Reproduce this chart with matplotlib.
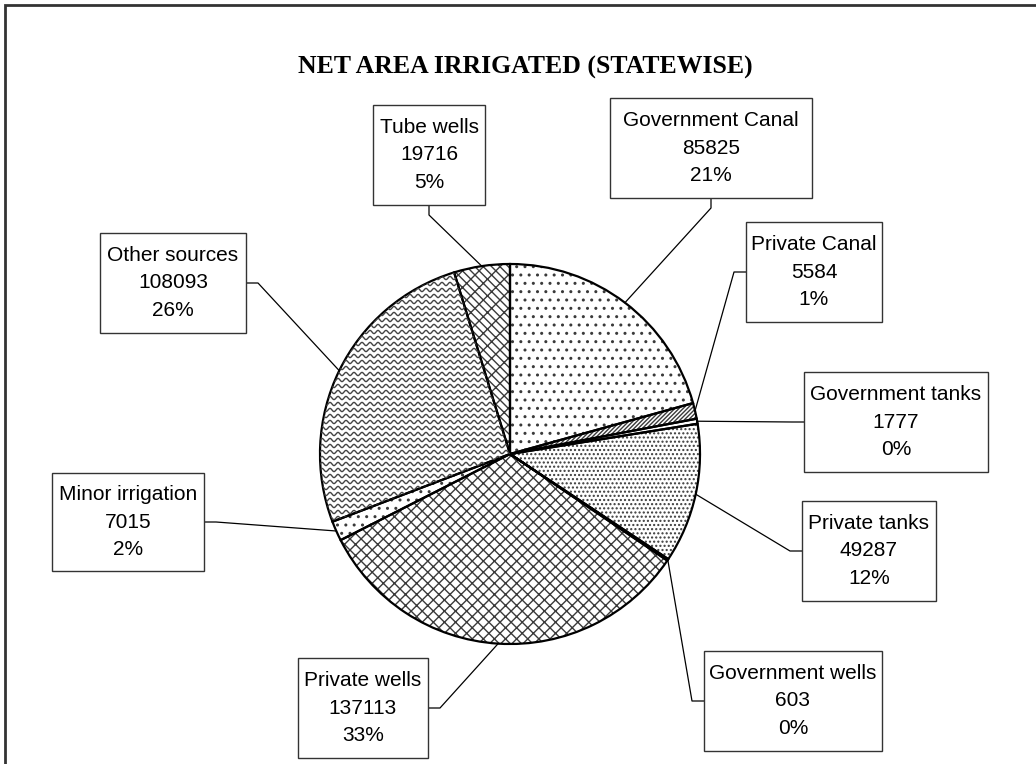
"""
Net area irrigated (statewise) - pie chart with boxed labels
"""
import numpy as np
import matplotlib
matplotlib.use("Agg")
import matplotlib.pyplot as plt
from matplotlib.patches import Rectangle

# data
sources = ["Government Canal", "Private Canal", "Government tanks", "Private tanks",
           "Government wells", "Private wells", "Minor irrigation", "Other sources",
           "Tube wells"]
areas = [85825, 5584, 1777, 49287, 603, 137113, 7015, 108093, 19716]
hatches = ["..", "////////", "", "....", "..", "xxx", "..", None, "xx\\\\"]

# layout (pixel positions, y measured from the top)
W, H = 1036, 764
pie_center = (510, 454)
pie_radius = 190
box_centers = [(711, 148), (814, 272), (896, 422), (869, 551), (793, 701),
               (363, 708), (128, 522), (173, 283), (429, 155)]
box_sides = ["bottom", "left", "left", "left", "left", "right", "right", "right", "bottom"]
box_half = [(101, 50), (68, 50), (92, 50), (67, 50), (89, 50),
            (65, 50), (76, 49), (73, 50), (56, 50)]


def fy(y):
    return H - y


plt.rcParams["hatch.linewidth"] = 1.0

fig = plt.figure(figsize=(W / 100, H / 100), dpi=100)
ax = fig.add_axes([0, 0, 1, 1])

# hatched fill
wedges, _ = ax.pie(areas, center=(pie_center[0], fy(pie_center[1])), radius=pie_radius,
                   startangle=90, counterclock=False, frame=True,
                   wedgeprops=dict(facecolor="white", edgecolor="#3a3a3a", linewidth=0))
for w, h in zip(wedges, hatches):
    if h:
        w.set_hatch(h)

# wavy pattern for "Other sources"
wave = wedges[7]
xs = np.linspace(pie_center[0] - pie_radius, pie_center[0] + pie_radius, 800)
for y0 in np.arange(fy(pie_center[1]) - pie_radius, fy(pie_center[1]) + pie_radius, 6):
    ln, = ax.plot(xs, y0 + 1.6 * np.sin(xs * 2 * np.pi / 8), color="#444444", lw=1.0)
    ln.set_clip_path(wave)

# outlines
outl, _ = ax.pie(areas, center=(pie_center[0], fy(pie_center[1])), radius=pie_radius,
                 startangle=90, counterclock=False, frame=True,
                 wedgeprops=dict(fill=False, edgecolor="black", linewidth=1.6))
ax.set_xlim(0, W)
ax.set_ylim(0, H)
ax.set_aspect("equal")
ax.axis("off")

total = sum(areas)
for i, w in enumerate(outl):
    name, val = sources[i], areas[i]
    pct = round(val / total * 100)
    cx, cy = box_centers[i]
    hw, hh = box_half[i]
    ax.add_patch(Rectangle((cx - hw, fy(cy + hh)), 2 * hw, 2 * hh, facecolor="white",
                           edgecolor="#333333", linewidth=1.0, zorder=4))
    ax.text(cx, fy(cy), f"{name}\n{val}\n{pct}%", ha="center", va="center",
            fontsize=15, family="Liberation Sans", linespacing=1.55, zorder=5)

    # leader line from slice middle to box
    mid = np.deg2rad((w.theta1 + w.theta2) / 2)
    px = pie_center[0] + pie_radius * np.cos(mid)
    py = fy(pie_center[1]) + pie_radius * np.sin(mid)
    side = box_sides[i]
    if side == "bottom":
        ax_, ay_ = cx, fy(cy + hh)
        ex, ey = ax_, ay_ - 10
    elif side == "left":
        ax_, ay_ = cx - hw, fy(cy)
        ex, ey = ax_ - 12, ay_
    else:
        ax_, ay_ = cx + hw, fy(cy)
        ex, ey = ax_ + 12, ay_
    ax.plot([px, ex, ax_], [py, ey, ay_], color="black", lw=0.9, zorder=3)

ax.text(525, fy(67), "NET AREA IRRIGATED (STATEWISE)", ha="center", va="center",
        fontsize=18.5, fontweight="bold", family="Liberation Serif")

# chart area border
ax.add_patch(Rectangle((5, fy(H + 20)), W + 20, H + 15, fill=False,
                       edgecolor="#333333", linewidth=2))

fig.savefig("out.png", dpi=100)
